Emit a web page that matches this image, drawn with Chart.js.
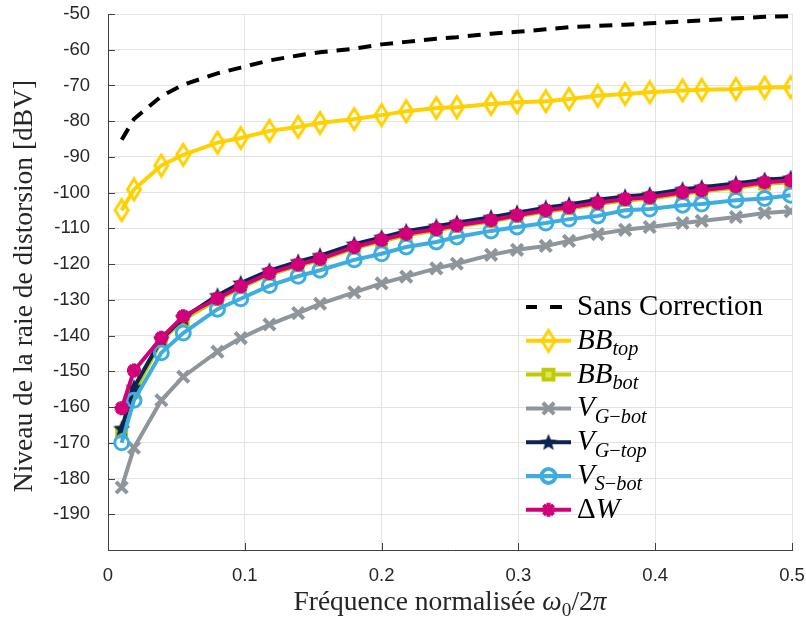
<!DOCTYPE html>
<html lang="fr">
<head>
<meta charset="UTF-8">
<title>Niveau de la raie de distorsion</title>
<script src="https://cdn.jsdelivr.net/npm/chart.js"></script>
<style>
    html, body { margin: 0; padding: 0; background: #fff; }
    #chart { display: block; }
</style>
</head>
<body>
<canvas id="chart" width="806" height="618"></canvas>
<script>
// --- données ---
const frequences = [0.010, 0.019, 0.039, 0.055, 0.080, 0.097, 0.118, 0.139, 0.155, 0.180, 0.200, 0.218, 0.240,
                    0.255, 0.280, 0.299, 0.320, 0.337, 0.358, 0.378, 0.396, 0.420, 0.434, 0.459, 0.480, 0.499];

const sansCorrection = [-85.2, -79.4, -73.0, -69.8, -66.6, -65.0, -63.0, -61.6, -60.7, -59.7, -58.5, -57.8, -56.9,
                        -56.5, -55.5, -55.0, -54.3, -53.7, -53.3, -53.0, -52.6, -52.1, -51.8, -51.2, -50.8, -50.6];
const bbTop = [-104.9, -99.1, -92.4, -89.4, -86.0, -84.7, -82.7, -81.6, -80.5, -79.4, -78.3, -77.2, -76.3,
               -76.1, -75.2, -74.7, -74.4, -73.8, -72.9, -72.4, -71.9, -71.4, -71.2, -71.0, -70.6, -70.5];
const bbBot = [-167.0, -156.0, -141.5, -135.5, -130.0, -126.6, -122.9, -120.5, -118.9, -115.6, -113.6, -111.9, -110.6,
               -109.5, -108.1, -106.7, -105.3, -104.5, -103.2, -102.2, -101.7, -100.3, -99.7, -98.6, -97.6, -97.1];
const vgBot = [-182.5, -171.4, -158.1, -151.5, -144.5, -140.7, -136.9, -133.7, -131.1, -127.9, -125.4, -123.5, -121.2,
               -119.9, -117.4, -116.0, -114.9, -113.5, -111.6, -110.4, -109.6, -108.5, -107.9, -106.8, -105.7, -105.2];
const vgTop = [-166.0, -154.5, -141.0, -135.0, -128.8, -125.3, -121.8, -119.3, -117.6, -114.4, -112.5, -110.8, -109.4,
               -108.4, -106.9, -105.6, -104.2, -103.3, -102.0, -101.1, -100.5, -99.1, -98.5, -97.4, -96.4, -95.9];
const vsBot = [-170.0, -158.1, -144.8, -139.3, -132.6, -129.7, -126.0, -123.4, -121.7, -118.8, -117.1, -115.2, -113.8,
               -112.4, -110.7, -109.6, -108.5, -107.4, -106.5, -104.9, -104.6, -103.5, -103.2, -102.1, -101.6, -100.7];
const deltaW = [-160.3, -149.8, -140.6, -134.6, -129.6, -126.2, -122.5, -120.1, -118.5, -115.2, -113.2, -111.5, -110.2,
                -109.1, -107.7, -106.3, -104.9, -104.1, -102.8, -101.8, -101.3, -99.9, -99.3, -98.2, -97.1, -96.6];

const graduationsX = [0, 0.1, 0.2, 0.3, 0.4, 0.5];
const graduationsY = [-190, -180, -170, -160, -150, -140, -130, -120, -110, -100, -90, -80, -70, -60, -50];

const titreY = 'Niveau de la raie de distorsion [dBV]';
// titre x : morceaux (texte, italique, indice)
const titreX = [{ t: 'Fréquence normalisée ' }, { t: 'ω', i: 1 }, { t: '0', s: 1 }, { t: '/2' }, { t: 'π', i: 1 }];

// libellés de la légende
const nomsSeries = [
    [{ t: 'Sans Correction' }],
    [{ t: 'BB', i: 1 }, { t: 'top', i: 1, s: 1 }],
    [{ t: 'BB', i: 1 }, { t: 'bot', i: 1, s: 1 }],
    [{ t: 'V', i: 1 }, { t: 'G', i: 1, s: 1 }, { t: '−', s: 1 }, { t: 'bot', i: 1, s: 1 }],
    [{ t: 'V', i: 1 }, { t: 'G', i: 1, s: 1 }, { t: '−', s: 1 }, { t: 'top', i: 1, s: 1 }],
    [{ t: 'V', i: 1 }, { t: 'S', i: 1, s: 1 }, { t: '−', s: 1 }, { t: 'bot', i: 1, s: 1 }],
    [{ t: 'Δ' }, { t: 'W', i: 1 }]
];

// --- marqueurs dessinés à part ---
function losange(couleur) {
    const c = document.createElement('canvas');
    c.width = 18; c.height = 26;
    const g = c.getContext('2d');
    g.strokeStyle = couleur;
    g.lineWidth = 3;
    g.beginPath();
    g.moveTo(9, 2.5); g.lineTo(15.5, 13); g.lineTo(9, 23.5); g.lineTo(2.5, 13);
    g.closePath();
    g.stroke();
    return c;
}

function etoile(couleur) {
    const c = document.createElement('canvas');
    c.width = 20; c.height = 20;
    const g = c.getContext('2d');
    g.fillStyle = couleur;
    g.beginPath();
    for (let k = 0; k < 10; k++) {
        const r = k % 2 ? 3.9 : 9;
        const a = -Math.PI / 2 + k * Math.PI / 5;
        g.lineTo(10 + r * Math.cos(a), 10.5 + r * Math.sin(a));
    }
    g.closePath();
    g.fill();
    return c;
}

const jaune = '#FFD100', vertJaune = '#BFCC00', gris = '#8F969B', marine = '#0C2454', bleu = '#3DADE0', magenta = '#D1007A';

function points(valeurs) {
    return frequences.map((f, k) => ({ x: f, y: valeurs[k] }));
}

const datasets = [
    { data: points(sansCorrection), borderColor: '#000', borderWidth: 4, borderDash: [13, 9], pointRadius: 0 },
    { data: points(bbTop), borderColor: jaune, borderWidth: 4, pointStyle: losange(jaune), pointRadius: 10 },
    { data: points(bbBot), borderColor: vertJaune, borderWidth: 4, pointStyle: 'rect', pointRadius: 7,
      pointBorderWidth: 3, pointBackgroundColor: '#DCE36A', pointBorderColor: vertJaune },
    { data: points(vgBot), borderColor: gris, borderWidth: 4, pointStyle: 'crossRot', pointRadius: 8,
      pointBorderWidth: 4, pointBorderColor: gris },
    { data: points(vgTop), borderColor: marine, borderWidth: 4, pointStyle: etoile(marine), pointRadius: 10 },
    { data: points(vsBot), borderColor: bleu, borderWidth: 4, pointStyle: 'circle', pointRadius: 7,
      pointBorderWidth: 3, pointBackgroundColor: 'rgba(0,0,0,0)', pointBorderColor: bleu },
    { data: points(deltaW), borderColor: magenta, borderWidth: 4, pointStyle: 'star', pointRadius: 7,
      pointBorderWidth: 4.5, pointBorderColor: magenta }
];
datasets.forEach((d, k) => {
    d.label = nomsSeries[k].map(p => p.t).join('');
    d.order = -k;          // dernière série tracée au-dessus, comme sous MATLAB
    d.tension = 0;
    d.fill = false;
});

// texte avec italique / indices
function texteRiche(ctx, morceaux, x, y, taille, mesurer) {
    let px = x;
    morceaux.forEach(m => {
        const t = m.s ? taille * 0.7 : taille;
        ctx.font = (m.i ? 'italic ' : '') + t + 'px "Liberation Serif", "DejaVu Serif", serif';
        if (!mesurer) ctx.fillText(m.t, px, m.s ? y + taille * 0.22 : y);
        px += ctx.measureText(m.t).width;
    });
    return px - x;
}

const habillage = {
    id: 'habillage',
    beforeDatasetsDraw(chart) {
        // petites graduations vers l'intérieur
        const ctx = chart.ctx, a = chart.chartArea;
        const sx = chart.scales.x, sy = chart.scales.y;
        ctx.save();
        ctx.strokeStyle = '#404040';
        ctx.lineWidth = 1;
        ctx.beginPath();
        graduationsY.forEach(v => {
            const py = Math.round(sy.getPixelForValue(v)) + 0.5;
            ctx.moveTo(a.left, py); ctx.lineTo(a.left + 7, py);
        });
        graduationsX.forEach(v => {
            const px = Math.round(sx.getPixelForValue(v)) + 0.5;
            ctx.moveTo(px, a.bottom); ctx.lineTo(px, a.bottom - 7);
        });
        ctx.stroke();
        ctx.restore();
    },
    afterDraw(chart) {
        const ctx = chart.ctx, a = chart.chartArea;
        ctx.save();
        ctx.fillStyle = '#262626';
        ctx.textBaseline = 'alphabetic';
        ctx.textAlign = 'left';

        // titre de l'axe x
        const lx = texteRiche(ctx, titreX, 0, 0, 27.5, true);
        texteRiche(ctx, titreX, (a.left + a.right) / 2 - lx / 2, 610, 27.5);

        // titre de l'axe y
        ctx.translate(32, (a.top + a.bottom) / 2 + 4);
        ctx.rotate(-Math.PI / 2);
        ctx.font = '27.5px "Liberation Serif", "DejaVu Serif", serif';
        ctx.textAlign = 'center';
        ctx.fillText(titreY, 0, 0);
        ctx.restore();

        // légende
        ctx.save();
        const x0 = 526, x1 = 571, xt = 577;
        chart.data.datasets.forEach((d, k) => {
            const y = 307 + k * 33.8;
            ctx.strokeStyle = d.borderColor;
            ctx.lineWidth = d.borderWidth;
            ctx.beginPath();
            if (d.borderDash) {
                ctx.moveTo(x0, y); ctx.lineTo(x0 + 11, y);
                ctx.moveTo(x0 + 24, y); ctx.lineTo(x0 + 36, y);
            } else {
                ctx.moveTo(x0, y); ctx.lineTo(x1, y);
            }
            ctx.stroke();
            if (d.pointRadius > 0) {
                ctx.strokeStyle = d.pointBorderColor || d.borderColor;
                ctx.fillStyle = d.pointBackgroundColor || d.borderColor;
                Chart.helpers.drawPoint(ctx, {
                    pointStyle: d.pointStyle, radius: d.pointRadius, rotation: 0,
                    borderWidth: d.pointBorderWidth || 0
                }, (x0 + x1) / 2, y);
            }
            ctx.fillStyle = '#000';
            texteRiche(ctx, nomsSeries[k], xt, y + 8, 29);
        });
        ctx.restore();
    }
};

const police = { family: '"Liberation Sans", Arial, Helvetica, sans-serif', size: 18.5 };

// on annule les marges que Chart.js ajoute pour les étiquettes
function sansMarge(s) {
    s.paddingTop = 0; s.paddingBottom = 0; s.paddingLeft = 0; s.paddingRight = 0;
}

new Chart(document.getElementById('chart'), {
    type: 'line',
    data: { datasets: datasets },
    options: {
        responsive: false,
        devicePixelRatio: 1,
        animation: false,
        layout: { padding: { top: 10, right: 13, left: 0, bottom: 0 } },
        plugins: { legend: { display: false }, tooltip: { enabled: false } },
        scales: {
            x: {
                type: 'linear', min: 0, max: 0.5,
                afterBuildTicks: s => { s.ticks = graduationsX.map(v => ({ value: v })); },
                afterFit: s => { s.height = 68; sansMarge(s); },
                grid: { color: '#e3e3e3', drawTicks: false },
                border: { color: '#404040', width: 1 },
                ticks: { color: '#262626', font: police, padding: 15, maxRotation: 0,
                         callback: v => String(Math.round(v * 10) / 10) }
            },
            y: {
                type: 'linear', min: -200, max: -50,
                afterBuildTicks: s => { s.ticks = graduationsY.map(v => ({ value: v })); },
                afterFit: s => { s.width = 108; sansMarge(s); },
                grid: { color: '#e3e3e3', drawTicks: false },
                border: { color: '#404040', width: 1 },
                ticks: { color: '#262626', font: police, padding: 18 }
            }
        }
    },
    plugins: [habillage]
});
</script>
</body>
</html>
